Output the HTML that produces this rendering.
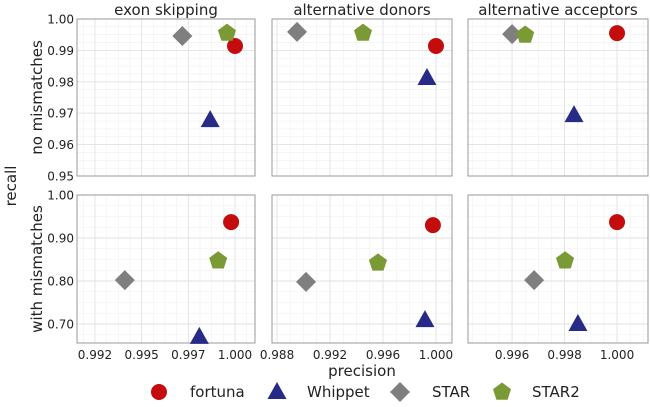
<!DOCTYPE html>
<html><head><meta charset="utf-8"><style>
body{margin:0;background:#fff}
svg{display:block;font-family:"DejaVu Sans","Liberation Sans",sans-serif}
</style></head><body>
<svg id="chart" width="650" height="407" viewBox="0 0 650 407"></svg>
<script>
const methods = ["fortuna","Whippet","STAR","STAR2"];
const colors = ["#c40c0c","#272a86","#7f7f7f","#7a9a35"];
const columns = ["exon skipping","alternative donors","alternative acceptors"];
const rows = ["no mismatches","with mismatches"];
const precisionNoMM = [[1.0000,0.99867,0.99718,0.99957],[1.0000,0.99932,0.98951,0.99449],[1.0000,0.99836,0.9960,0.9965]];
const recallNoMM = [[0.9914,0.9678,0.9946,0.9955],[0.9914,0.9812,0.9959,0.9955],[0.9955,0.9694,0.9952,0.9949]];
const precisionMM = [[0.99979,0.99809,0.99410,0.99910],[0.99977,0.99917,0.99019,0.99562],[1.0000,0.99851,0.99684,0.99802]];
const recallMM = [[0.937,0.670,0.802,0.847],[0.930,0.709,0.798,0.842],[0.937,0.700,0.802,0.847]];
const xTickVals = [[0.9925,0.995,0.9975,1.0],[0.988,0.992,0.996,1.0],[0.996,0.998,1.0]];
const xTickLabels = [["0.992","0.995","0.997","1.000"],["0.988","0.992","0.996","1.000"],["0.996","0.998","1.000"]];
const yTickVals = [[0.95,0.96,0.97,0.98,0.99,1.00],[0.70,0.80,0.90,1.00]];
const yTickLabels = [["0.95","0.96","0.97","0.98","0.99","1.00"],["0.70","0.80","0.90","1.00"]];

const NS="http://www.w3.org/2000/svg";
const svg=document.getElementById('chart');
function mk(tag,attrs,parent){const e=document.createElementNS(NS,tag);for(const k in attrs)e.setAttribute(k,attrs[k]);(parent||svg).appendChild(e);return e;}
const colPx=[[77,255],[272,452],[468,648]];
const xDom=[[0.99154,1.00107],[0.98762,1.00121],[0.99432,1.00118]];
const rowPx=[[19,176],[195,343]];
const yDom=[[0.95,1.00],[0.6558,1.00]];
function xs(c,v){return colPx[c][0]+(v-xDom[c][0])/(xDom[c][1]-xDom[c][0])*(colPx[c][1]-colPx[c][0]);}
function ys(r,v){return rowPx[r][1]-(v-yDom[r][0])/(yDom[r][1]-yDom[r][0])*(rowPx[r][1]-rowPx[r][0]);}

function marker(m,x,y,s,parent){
  let e;
  if(m===0){e=mk('circle',{cx:x,cy:y,r:s*0.8,fill:colors[0]},parent);}
  else if(m===1){e=mk('polygon',{points:`${x},${y-s} ${x-s*0.95},${y+s*0.7} ${x+s*0.95},${y+s*0.7}`,fill:colors[1]},parent);}
  else if(m===2){e=mk('polygon',{points:`${x},${y-s} ${x+s},${y} ${x},${y+s} ${x-s},${y}`,fill:colors[2]},parent);}
  else{let p=[];for(let i=0;i<5;i++){const a=-Math.PI/2+i*2*Math.PI/5;p.push((x+s*0.95*Math.cos(a)).toFixed(1)+','+(y+s*0.95*Math.sin(a)).toFixed(1));}e=mk('polygon',{points:p.join(' '),fill:colors[3]},parent);}
  return e;
}

for(let r=0;r<2;r++){
  for(let c=0;c<3;c++){
    const g=mk('g',{});
    
    
    const [x0,x1]=colPx[c],[y0,y1]=rowPx[r];
    const xv=xTickVals[c],dx=(xv[1]-xv[0]);
    for(let v=xv[0]-dx;v<=xDom[c][1];v+=dx/4){const px=xs(c,v);if(px>x0&&px<x1)mk('line',{x1:px,x2:px,y1:y0,y2:y1,stroke:'#efefef','stroke-width':0.6},g);}
    const yv=yTickVals[r],dy=(yv[1]-yv[0]);
    for(let v=yv[0]-dy;v<=yDom[r][1]+1e-9;v+=dy/4){const py=ys(r,v);if(py>y0&&py<y1)mk('line',{x1:x0,x2:x1,y1:py,y2:py,stroke:'#efefef','stroke-width':0.6},g);}
    xv.forEach(v=>{const px=xs(c,v);mk('line',{x1:px,x2:px,y1:y0,y2:y1,stroke:'#e2e2e2','stroke-width':0.9},g);});
    yv.forEach(v=>{const py=ys(r,v);mk('line',{x1:x0,x2:x1,y1:py,y2:py,stroke:'#e2e2e2','stroke-width':0.9},g);});
    const fr=mk('rect',{x:x0,y:y0,width:x1-x0,height:y1-y0,fill:'none',stroke:'#9a9a9a','stroke-width':1},g);
    
    
    const P=r===0?precisionNoMM:precisionMM,R=r===0?recallNoMM:recallMM;
    for(let m=0;m<4;m++){
      const pt=marker(m,xs(c,P[c][m]),ys(r,R[c][m]),10,g);
      
      
    }
    if(r===1){
      xTickVals[c].forEach((v,i)=>{const t=mk('text',{x:xs(c,v),y:359,'text-anchor':'middle','font-size':12,fill:'#222'});t.textContent=xTickLabels[c][i];
        
        });
    }
    if(c===0){
      yTickVals[r].forEach((v,i)=>{const t=mk('text',{x:74,y:ys(r,v)+4.5,'text-anchor':'end','font-size':12,fill:'#222'});t.textContent=yTickLabels[r][i];
        
        });
      const cy=(y0+y1)/2;
      const t=mk('text',{x:0,y:0,'text-anchor':'middle','font-size':15,fill:'#222',transform:`translate(42,${cy}) rotate(-90)`});t.textContent=rows[r];
      
      
    }
    if(r===0){
      const t=mk('text',{x:(x0+x1)/2,y:15,'text-anchor':'middle','font-size':15,fill:'#222'});t.textContent=columns[c];
      
      
    }
  }
}
let t=mk('text',{x:0,y:0,'text-anchor':'middle','font-size':15,fill:'#222',transform:'translate(16,186) rotate(-90)'});t.textContent='recall';


t=mk('text',{x:362,y:376,'text-anchor':'middle','font-size':15,fill:'#222'});t.textContent='precision';


const legX=[159,277,400,502],legTX=[190,307,432,532];
for(let m=0;m<4;m++){
  const g=mk('g',{});
  
  
  marker(m,legX[m],392,10,g);
  const tt=mk('text',{x:legTX[m],y:397,'font-size':15,fill:'#222'},g);tt.textContent=methods[m];
}
</script>
</body></html>
